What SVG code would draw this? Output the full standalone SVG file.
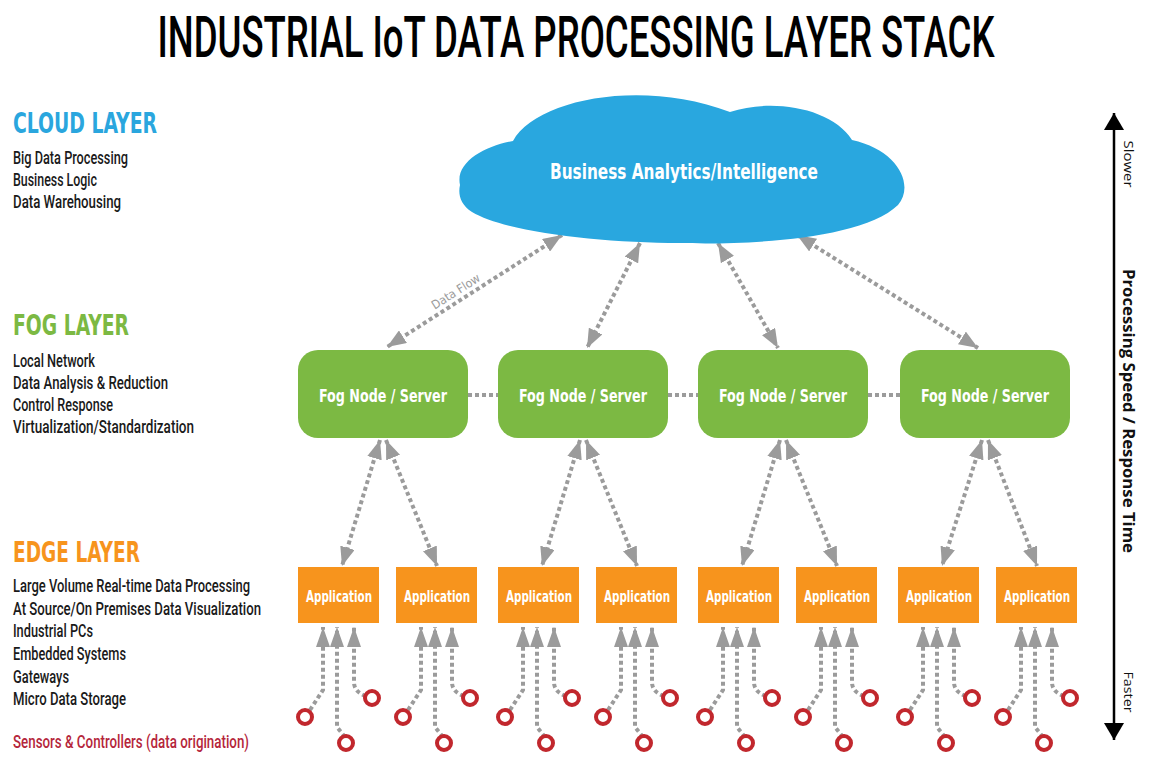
<svg xmlns="http://www.w3.org/2000/svg" width="1158" height="766" viewBox="0 0 1158 766">
<defs>
<style>
.cond{font-family:"DejaVu Sans Condensed","DejaVu Sans","Liberation Sans",sans-serif;font-weight:bold;}
.item{font-family:Roboto,"Liberation Sans",sans-serif;font-weight:500;font-size:17.5px;fill:#1a1a1a;}
.hdr{font-size:28px;}
.flow{fill:none;stroke:#9b9b9b;stroke-width:4;stroke-dasharray:4 3;}
.sens{fill:#fff;stroke:#c1272d;stroke-width:4;}
.axis{font-family:"Open Sans","DejaVu Sans",sans-serif;fill:#111;}
.fog{fill:#7cb943;}
.app{fill:#f7941d;}
.lbl{fill:#fff;text-anchor:middle;}
</style>
<marker id="ah" markerUnits="userSpaceOnUse" markerWidth="19" markerHeight="15" refX="19" refY="7.5" orient="auto-start-reverse" viewBox="0 0 19 15">
<path d="M0,0 L19,7.5 L0,15 z" fill="#9b9b9b"/>
</marker>
<marker id="ahs" markerUnits="userSpaceOnUse" markerWidth="20" markerHeight="14" refX="20" refY="7" orient="auto" viewBox="0 0 20 14">
<path d="M0,0 L20,7 L0,14 z" fill="#9b9b9b"/>
</marker>
<marker id="axh" markerUnits="userSpaceOnUse" markerWidth="17" markerHeight="20" refX="17" refY="10" orient="auto-start-reverse" viewBox="0 0 17 20">
<path d="M0,0 L17,10 L0,20 z" fill="#000"/>
</marker>
</defs>
<rect width="1158" height="766" fill="#fff"/>

<text id="title" x="576" y="57" font-family="Roboto,'Liberation Sans',sans-serif" font-weight="500" font-size="58" text-anchor="middle" textLength="837" lengthAdjust="spacingAndGlyphs" fill="#000">INDUSTRIAL IoT DATA PROCESSING LAYER STACK</text>

<g id="legend-cloud">
<text class="cond hdr" x="13" y="133" fill="#2aa6de" textLength="144" lengthAdjust="spacingAndGlyphs">CLOUD LAYER</text>
<text class="item" x="13" y="164" textLength="115" lengthAdjust="spacingAndGlyphs">Big Data Processing</text>
<text class="item" x="13" y="186" textLength="84" lengthAdjust="spacingAndGlyphs">Business Logic</text>
<text class="item" x="13" y="208" textLength="108" lengthAdjust="spacingAndGlyphs">Data Warehousing</text>
</g>
<g id="legend-fog">
<text class="cond hdr" x="13" y="335" fill="#7cb943" textLength="116" lengthAdjust="spacingAndGlyphs">FOG LAYER</text>
<text class="item" x="13" y="367" textLength="82" lengthAdjust="spacingAndGlyphs">Local Network</text>
<text class="item" x="13" y="389" textLength="155" lengthAdjust="spacingAndGlyphs">Data Analysis &amp; Reduction</text>
<text class="item" x="13" y="411" textLength="100" lengthAdjust="spacingAndGlyphs">Control Response</text>
<text class="item" x="13" y="433" textLength="181" lengthAdjust="spacingAndGlyphs">Virtualization/Standardization</text>
</g>
<g id="legend-edge">
<text class="cond hdr" x="13" y="562" fill="#f7941d" textLength="127" lengthAdjust="spacingAndGlyphs">EDGE LAYER</text>
<text class="item" x="13" y="592" textLength="237" lengthAdjust="spacingAndGlyphs">Large Volume Real-time Data Processing</text>
<text class="item" x="13" y="615" textLength="248" lengthAdjust="spacingAndGlyphs">At Source/On Premises Data Visualization</text>
<text class="item" x="13" y="637" textLength="80" lengthAdjust="spacingAndGlyphs">Industrial PCs</text>
<text class="item" x="13" y="660" textLength="113" lengthAdjust="spacingAndGlyphs">Embedded Systems</text>
<text class="item" x="13" y="683" textLength="56" lengthAdjust="spacingAndGlyphs">Gateways</text>
<text class="item" x="13" y="705" textLength="113" lengthAdjust="spacingAndGlyphs">Micro Data Storage</text>
<text class="item" x="13" y="748" style="fill:#b5263b" textLength="236" lengthAdjust="spacingAndGlyphs">Sensors &amp; Controllers (data origination)</text>
</g>

<g id="connectors">
<path class="flow" d="M562,235 L387,347" marker-start="url(#ah)" marker-end="url(#ah)"/>
<path class="flow" d="M640,243 L587,348" marker-start="url(#ah)" marker-end="url(#ah)"/>
<path class="flow" d="M718,243 L778,348" marker-start="url(#ah)" marker-end="url(#ah)"/>
<path class="flow" d="M797,235 L978,348" marker-start="url(#ah)" marker-end="url(#ah)"/>
<text x="458" y="295" transform="rotate(-32.6 458 295)" text-anchor="middle" font-family="'DejaVu Sans Condensed','DejaVu Sans',sans-serif" font-size="12" fill="#9b9b9b" textLength="55" lengthAdjust="spacingAndGlyphs">Data Flow</text>
<path class="flow" d="M468,395 H498 M668,395 H698 M868,395 H900"/>
<path class="flow" d="M380,440 L342,566" marker-start="url(#ah)" marker-end="url(#ah)"/>
<path class="flow" d="M386,440 L437,566" marker-start="url(#ah)" marker-end="url(#ah)"/>
<path class="flow" d="M580,440 L542,566" marker-start="url(#ah)" marker-end="url(#ah)"/>
<path class="flow" d="M586,440 L637,566" marker-start="url(#ah)" marker-end="url(#ah)"/>
<path class="flow" d="M780,440 L742,566" marker-start="url(#ah)" marker-end="url(#ah)"/>
<path class="flow" d="M786,440 L837,566" marker-start="url(#ah)" marker-end="url(#ah)"/>
<path class="flow" d="M982,440 L942,566" marker-start="url(#ah)" marker-end="url(#ah)"/>
<path class="flow" d="M988,440 L1037,566" marker-start="url(#ah)" marker-end="url(#ah)"/>
<path class="flow" d="M310,710 L323,690 V627" marker-end="url(#ahs)"/>
<path class="flow" d="M345,737 L337,727 V627" marker-end="url(#ahs)"/>
<path class="flow" d="M366,696 Q354,692 354,682 V627" marker-end="url(#ahs)"/>
<path class="flow" d="M408,710 L421,690 V627" marker-end="url(#ahs)"/>
<path class="flow" d="M443,737 L435,727 V627" marker-end="url(#ahs)"/>
<path class="flow" d="M464,696 Q452,692 452,682 V627" marker-end="url(#ahs)"/>
<path class="flow" d="M510,710 L523,690 V627" marker-end="url(#ahs)"/>
<path class="flow" d="M545,737 L537,727 V627" marker-end="url(#ahs)"/>
<path class="flow" d="M566,696 Q554,692 554,682 V627" marker-end="url(#ahs)"/>
<path class="flow" d="M608,710 L621,690 V627" marker-end="url(#ahs)"/>
<path class="flow" d="M643,737 L635,727 V627" marker-end="url(#ahs)"/>
<path class="flow" d="M664,696 Q652,692 652,682 V627" marker-end="url(#ahs)"/>
<path class="flow" d="M710,710 L723,690 V627" marker-end="url(#ahs)"/>
<path class="flow" d="M745,737 L737,727 V627" marker-end="url(#ahs)"/>
<path class="flow" d="M766,696 Q754,692 754,682 V627" marker-end="url(#ahs)"/>
<path class="flow" d="M808,710 L821,690 V627" marker-end="url(#ahs)"/>
<path class="flow" d="M843,737 L835,727 V627" marker-end="url(#ahs)"/>
<path class="flow" d="M864,696 Q852,692 852,682 V627" marker-end="url(#ahs)"/>
<path class="flow" d="M910,710 L923,690 V627" marker-end="url(#ahs)"/>
<path class="flow" d="M945,737 L937,727 V627" marker-end="url(#ahs)"/>
<path class="flow" d="M966,696 Q954,692 954,682 V627" marker-end="url(#ahs)"/>
<path class="flow" d="M1008,710 L1021,690 V627" marker-end="url(#ahs)"/>
<path class="flow" d="M1043,737 L1035,727 V627" marker-end="url(#ahs)"/>
<path class="flow" d="M1064,696 Q1052,692 1052,682 V627" marker-end="url(#ahs)"/>
</g>

<g id="cloud">
<path d="M460,185 C455,162 485,146 513,141 C535,100 640,78 730,112 C772,98 832,108 852,140 C898,150 915,185 898,205 C862,240 745,245 680,243 C600,243 505,232 472,212 C460,204 458,194 460,185 Z" fill="#29a7df"/>
<text class="cond lbl" x="684" y="179" font-size="22" textLength="268" lengthAdjust="spacingAndGlyphs">Business Analytics/Intelligence</text>
</g>

<g id="fog1"><rect class="fog" x="298" y="350" width="170" height="88" rx="20"/><text class="cond lbl" x="383" y="402" font-size="18" textLength="128" lengthAdjust="spacingAndGlyphs">Fog Node / Server</text></g>
<g id="fog2"><rect class="fog" x="498" y="350" width="170" height="88" rx="20"/><text class="cond lbl" x="583" y="402" font-size="18" textLength="128" lengthAdjust="spacingAndGlyphs">Fog Node / Server</text></g>
<g id="fog3"><rect class="fog" x="698" y="350" width="170" height="88" rx="20"/><text class="cond lbl" x="783" y="402" font-size="18" textLength="128" lengthAdjust="spacingAndGlyphs">Fog Node / Server</text></g>
<g id="fog4"><rect class="fog" x="900" y="350" width="170" height="88" rx="20"/><text class="cond lbl" x="985" y="402" font-size="18" textLength="128" lengthAdjust="spacingAndGlyphs">Fog Node / Server</text></g>

<g id="app1"><rect class="app" x="298" y="567" width="81" height="56"/><text class="cond lbl" x="339" y="602" font-size="16" textLength="66" lengthAdjust="spacingAndGlyphs">Application</text></g>
<g id="app2"><rect class="app" x="396" y="567" width="81" height="56"/><text class="cond lbl" x="437" y="602" font-size="16" textLength="66" lengthAdjust="spacingAndGlyphs">Application</text></g>
<g id="app3"><rect class="app" x="498" y="567" width="81" height="56"/><text class="cond lbl" x="539" y="602" font-size="16" textLength="66" lengthAdjust="spacingAndGlyphs">Application</text></g>
<g id="app4"><rect class="app" x="596" y="567" width="81" height="56"/><text class="cond lbl" x="637" y="602" font-size="16" textLength="66" lengthAdjust="spacingAndGlyphs">Application</text></g>
<g id="app5"><rect class="app" x="698" y="567" width="81" height="56"/><text class="cond lbl" x="739" y="602" font-size="16" textLength="66" lengthAdjust="spacingAndGlyphs">Application</text></g>
<g id="app6"><rect class="app" x="796" y="567" width="81" height="56"/><text class="cond lbl" x="837" y="602" font-size="16" textLength="66" lengthAdjust="spacingAndGlyphs">Application</text></g>
<g id="app7"><rect class="app" x="898" y="567" width="81" height="56"/><text class="cond lbl" x="939" y="602" font-size="16" textLength="66" lengthAdjust="spacingAndGlyphs">Application</text></g>
<g id="app8"><rect class="app" x="996" y="567" width="81" height="56"/><text class="cond lbl" x="1037" y="602" font-size="16" textLength="66" lengthAdjust="spacingAndGlyphs">Application</text></g>

<g id="sensors">
<circle class="sens" cx="305" cy="717" r="7"/><circle class="sens" cx="372" cy="698" r="7"/><circle class="sens" cx="346" cy="743" r="7"/>
<circle class="sens" cx="403" cy="717" r="7"/><circle class="sens" cx="470" cy="698" r="7"/><circle class="sens" cx="444" cy="743" r="7"/>
<circle class="sens" cx="505" cy="717" r="7"/><circle class="sens" cx="572" cy="698" r="7"/><circle class="sens" cx="546" cy="743" r="7"/>
<circle class="sens" cx="603" cy="717" r="7"/><circle class="sens" cx="670" cy="698" r="7"/><circle class="sens" cx="644" cy="743" r="7"/>
<circle class="sens" cx="705" cy="717" r="7"/><circle class="sens" cx="772" cy="698" r="7"/><circle class="sens" cx="746" cy="743" r="7"/>
<circle class="sens" cx="803" cy="717" r="7"/><circle class="sens" cx="870" cy="698" r="7"/><circle class="sens" cx="844" cy="743" r="7"/>
<circle class="sens" cx="905" cy="717" r="7"/><circle class="sens" cx="972" cy="698" r="7"/><circle class="sens" cx="946" cy="743" r="7"/>
<circle class="sens" cx="1003" cy="717" r="7"/><circle class="sens" cx="1070" cy="698" r="7"/><circle class="sens" cx="1044" cy="743" r="7"/>
</g>

<g id="axis">
<path d="M1114,113 V740" stroke="#000" stroke-width="2.5" marker-start="url(#axh)" marker-end="url(#axh)"/>
<text class="axis" x="1124" y="164" transform="rotate(90 1124 164)" font-size="13" text-anchor="middle" textLength="47" lengthAdjust="spacingAndGlyphs">Slower</text>
<text class="axis" x="1123" y="411" transform="rotate(90 1123 411)" font-size="16" font-weight="bold" text-anchor="middle" textLength="284" lengthAdjust="spacingAndGlyphs">Processing Speed / Response Time</text>
<text class="axis" x="1124" y="692" transform="rotate(90 1124 692)" font-size="13" text-anchor="middle" textLength="41" lengthAdjust="spacingAndGlyphs">Faster</text>
</g>
</svg>
